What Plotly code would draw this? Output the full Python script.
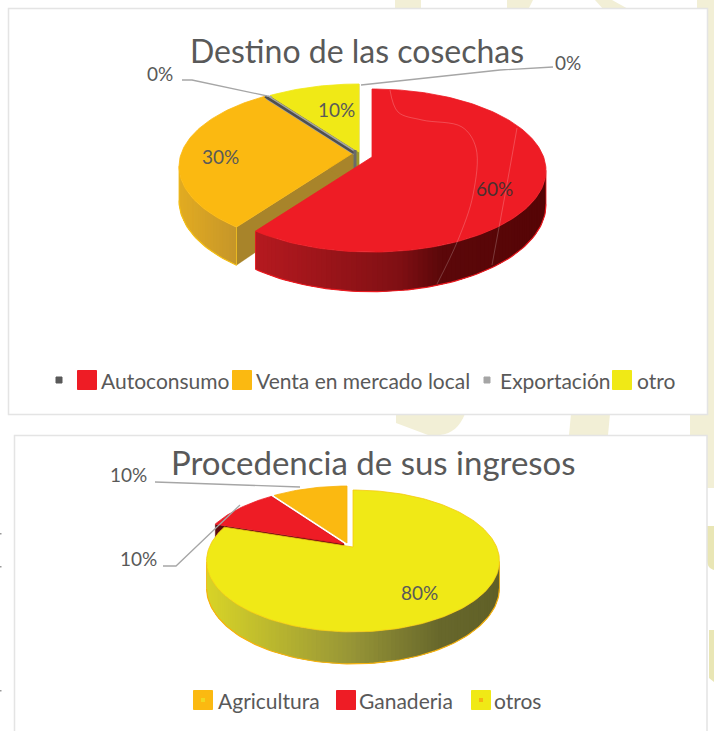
import math
import plotly.graph_objects as go

# ---- data ----
title_a = "Destino de las cosechas"
names_a = ["", "Autoconsumo", "Venta en mercado local", "Exportación", "otro"]
values_a = [0, 60, 30, 0, 10]
labels_a = ["0%", "60%", "30%", "0%", "10%"]

title_b = "Procedencia de sus ingresos"
names_b = ["Agricultura", "Ganaderia", "otros"]
values_b = [10, 10, 80]
labels_b = ["10%", "10%", "80%"]

RED, ORANGE, YELLOW = "#ee1c25", "#fbb911", "#f0e916"
TXT = "#595959"
FONT = "Lato"
CREAM = "#f2efd6"


def proj(geo, apex, theta, depth=0.0, r=1.0):
    """clockwise angle from 12 o'clock -> page position on a tilted disc"""
    u, v = r * math.sin(theta), -r * math.cos(theta)
    w = 1 - geo["k"] * v
    return (apex[0] + geo["A"] * u / w, apex[1] + geo["B"] * v / w + depth / w)


def lerp(stops, x):
    if x <= stops[0][0]:
        return stops[0][1]
    for (x0, c0), (x1, c1) in zip(stops, stops[1:]):
        if x <= x1:
            t = (x - x0) / (x1 - x0)
            return tuple(c0[i] + (c1[i] - c0[i]) * t for i in range(3))
    return stops[-1][1]


fig = go.Figure()


def poly(pts, fill, line=None, lw=0.6):
    fig.add_trace(go.Scatter(
        x=[p[0] for p in pts] + [pts[0][0]], y=[p[1] for p in pts] + [pts[0][1]],
        mode="lines", fill="toself", fillcolor=fill,
        line=dict(color=line or fill, width=lw), hoverinfo="skip", showlegend=False))


def path(pts, color, lw=1.0, shape="linear"):
    fig.add_trace(go.Scatter(
        x=[p[0] for p in pts], y=[p[1] for p in pts], mode="lines",
        line=dict(color=color, width=lw, shape=shape), hoverinfo="skip", showlegend=False))


def wedge(geo, spec, a0, a1):
    apex, d = spec["apex"], geo["D"]
    n = max(4, int((a1 - a0) * 40))
    arc = [a0 + (a1 - a0) * i / n for i in range(n + 1)]
    # cut faces
    if spec.get("cut"):
        for a in (a0, a1):
            poly([apex, proj(geo, apex, a), proj(geo, apex, a, d), proj(geo, apex, 0, d, 0)], spec["cut"], lw=0.3)
    # curved side, only where it faces the viewer; each strip overlaps the next
    # one so the smooth shading has no seams
    facing = [t for t in arc if -math.cos(t) >= geo["k"] - 0.01]
    for i, t0 in enumerate(facing[:-1]):
        t1 = facing[min(i + 2, len(facing) - 1)]
        if i % 2:
            t1 = facing[min(i + 3, len(facing) - 1)]
        p0, p1 = proj(geo, apex, t0), proj(geo, apex, t1)
        q0, q1 = proj(geo, apex, t0, d), proj(geo, apex, t1, d)
        col = lerp(spec["side"], p0[0] + (proj(geo, apex, facing[i + 1])[0] - p0[0]) / 2)
        poly([p0, p1, q1, q0], "rgb(%d,%d,%d)" % col, lw=0)
    if facing:
        path([proj(geo, apex, t, d) for t in facing], spec["edge"], 1.2)
        for t in (facing[0], facing[-1]):
            path([proj(geo, apex, t), proj(geo, apex, t, d)], spec["edge"], 0.8)
    # top face
    poly([apex] + [proj(geo, apex, t) for t in arc], spec["color"], line=spec.get("rim", spec["color"]), lw=0.8)


def note(x, y, text, size=19, color=TXT, anchor="center"):
    fig.add_annotation(x=x, y=y, text=text, showarrow=False, xanchor=anchor, yanchor="middle",
                       font=dict(family=FONT, size=size, color=color))


def legend(y, entries, size=21):
    for xm, sz, col, dot, lab, xt in entries:
        fig.add_trace(go.Scatter(x=[xm], y=[y], mode="markers",
                                 marker=dict(symbol="square", size=sz, color=col, line=dict(color=col, width=1)),
                                 hoverinfo="skip", showlegend=False))
        if dot:
            fig.add_trace(go.Scatter(x=[xm], y=[y], mode="markers", marker=dict(symbol="square", size=4, color=dot),
                                     hoverinfo="skip", showlegend=False))
        if lab:
            note(xt, y, lab, size=size, anchor="left")


# ---- page decoration ----
shapes = []
def rect(x0, y0, x1, y1, fill, line=None):
    shapes.append(dict(type="rect", x0=x0, y0=y0, x1=x1, y1=y1, fillcolor=fill, layer="below",
                       line=dict(color=line or fill, width=1.5 if line else 0)))
def pth(d, fill):
    shapes.append(dict(type="path", path=d, fillcolor=fill, layer="below", line=dict(width=0)))

rect(395, 0, 421, 10, CREAM)
pth("M507,0 L533,0 L528,10 L507,10 Z", CREAM)
pth("M595,0 L612,0 L630,10 L604,10 Z", CREAM)
rect(697, 0, 714, 10, CREAM)
rect(707, 0, 714, 488, CREAM)
pth("M396,414 L465,414 C460,426 452,434 440,435 L428,435 L396,423 Z", CREAM)
pth("M571,414 L610,414 L608,435 L569,435 Z", CREAM)
rect(690, 414, 714, 437, CREAM)
pth("M707,526 L714,526 L714,570 C710,569 707,566 707,560 Z", "#e9e6b5")
pth("M709,630 L714,630 L714,682 L709,678 Z", "#e9e6b5")
rect(8.5, 8.5, 707.5, 414.5, "#ffffff", "#e4e4e4")
rect(14.5, 435.5, 707, 740, "#ffffff", "#e4e4e4")
for yy in (533, 566, 690):
    rect(0, yy, 1.5, yy + 1.5, "#9a9a9a")

# ---- top pie ----
geo_a = dict(k=0.166, A=171.6, B=79.3, D=33)
spec_a = {
    "otro": dict(color=YELLOW, apex=(359, 152), side=[(0, (190, 185, 30)), (999, (190, 185, 30))],
                 edge=YELLOW, cut="#9c9a2c"),
    "Venta en mercado local": dict(color=ORANGE, apex=(353, 153),
                                   side=[(180, (226, 172, 34)), (236, (198, 150, 42))],
                                   edge="#f4bf16", cut="#a8842a"),
    "Autoconsumo": dict(color=RED, apex=(372, 157), edge="#ea1a20",
                        side=[(255, (182, 26, 32)), (400, (128, 16, 20)), (440, (92, 8, 10)), (546, (86, 5, 6))]),
}
total_a = sum(values_a)
bounds = {}
run = 0.0
for n, v in zip(names_a, values_a):
    bounds[n] = (run / total_a * 2 * math.pi, (run + v) / total_a * 2 * math.pi)
    run += v
for n in ["otro", "Venta en mercado local"]:
    wedge(geo_a, spec_a[n], *bounds[n])
# zero-valued series only show up as their separating edge
edge = bounds["Exportación"][0]
ap = spec_a["otro"]["apex"]
path([(ap[0] - 4, ap[1] + 1), proj(geo_a, (ap[0] - 3, ap[1] + 2), edge)], "#a5a5a5", 4.5)
ap = spec_a["Venta en mercado local"]["apex"]
path([(ap[0] + 1, ap[1]), proj(geo_a, (ap[0] + 1, ap[1]), edge)], "#4f4f4f", 2.6)
path([(355, 150), (355, 172)], "#6a6a6a", 3)
wedge(geo_a, spec_a["Autoconsumo"], *bounds["Autoconsumo"])

# faint hairlines across the red slice
path([(390, 90), (398, 112), (422, 120), (462, 127), (476, 148), (473, 195), (458, 240), (437, 284)],
     "rgba(255,255,255,0.35)", 0.6, "spline")
path([(517, 128), (505, 195), (492, 265)], "rgba(255,255,255,0.35)", 0.6, "spline")

# leaders
path([(182, 80), (192, 80), (272, 97)], "#a6a6a6", 1.3)
path([(553, 67), (500, 70), (361, 85)], "#a6a6a6", 1.3)

note(357, 50, title_a, size=32)
note(160, 73, labels_a[3])
note(568, 62, labels_a[0])
note(336, 109, labels_a[4])
note(220, 156, labels_a[2])
note(494, 188, labels_a[1], color="#4a3030")

legend(380, [
    (59, 6, "#595959", None, names_a[0], 0),
    (87, 19, RED, None, names_a[1], 99),
    (242, 19, ORANGE, None, names_a[2], 254),
    (487, 6, "#a5a5a5", None, names_a[3], 498),
    (622, 19, YELLOW, None, names_a[4], 635),
])

# ---- bottom pie ----
geo_b = dict(k=0.197, A=143.6, B=68.2, D=25.7)
spec_b = {
    "Agricultura": dict(color=ORANGE, apex=(347, 543), side=[(0, (200, 150, 40)), (999, (200, 150, 40))],
                        edge=ORANGE, rim="#f7b20f"),
    "Ganaderia": dict(color=RED, apex=(344, 544), side=[(0, (120, 16, 20)), (999, (120, 16, 20))],
                      edge="#7a1015", cut="#5a0a0e"),
    "otros": dict(color=YELLOW, apex=(353, 547), edge="#f7b20f", rim="#f5c90f",
                  side=[(208, (216, 212, 40)), (350, (152, 150, 55)), (440, (104, 104, 44)), (500, (96, 96, 40))]),
}
# clockwise from 12 o'clock the slices run otros, Ganaderia, Agricultura
order_b = ["otros", "Ganaderia", "Agricultura"]
total_b = sum(values_b)
run = 0.0
bounds_b = {}
for n in order_b:
    v = values_b[names_b.index(n)]
    bounds_b[n] = (run / total_b * 2 * math.pi, (run + v) / total_b * 2 * math.pi)
    run += v
for n in ["Agricultura", "Ganaderia", "otros"]:
    wedge(geo_b, spec_b[n], *bounds_b[n])

path([(155, 482), (300, 487)], "#a6a6a6", 1.3)
path([(163, 566), (176, 566), (240, 505)], "#a6a6a6", 1.3)

note(373, 462, title_b, size=33)
note(128, 474, labels_b[0])
note(138, 558, labels_b[1])
note(419, 592, labels_b[2])

legend(700, [
    (203, 19, ORANGE, "#f0d820", names_b[0], 216),
    (346, 19, RED, None, names_b[1], 357),
    (481, 19, YELLOW, "#f7b20f", names_b[2], 492),
])

fig.update_layout(
    width=714, height=731, autosize=False, margin=dict(l=0, r=0, t=0, b=0),
    paper_bgcolor="#ffffff", plot_bgcolor="rgba(0,0,0,0)", shapes=shapes, showlegend=False,
    xaxis=dict(range=[0, 714], visible=False, fixedrange=True),
    yaxis=dict(range=[731, 0], visible=False, fixedrange=True),
)
fig.write_html("out.html", config=dict(displayModeBar=False),
               post_script="document.body.style.margin='0';document.body.style.overflow='hidden';")
